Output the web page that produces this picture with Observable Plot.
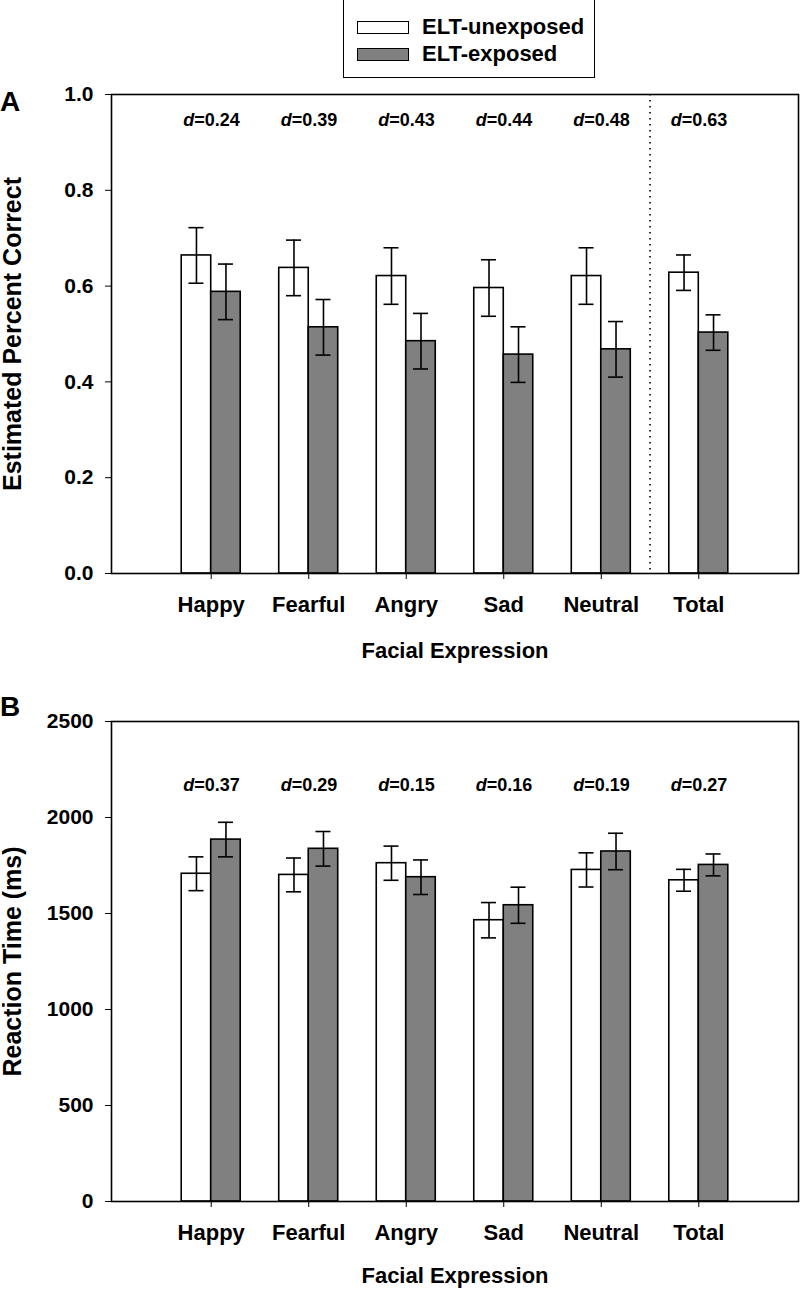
<!DOCTYPE html>
<html>
<head>
<meta charset="utf-8">
<script src="https://cdn.jsdelivr.net/npm/d3@7"></script>
<script src="https://cdn.jsdelivr.net/npm/@observablehq/plot@0.6"></script>
<style>
  html, body { margin: 0; padding: 0; background: #fff; }
  body { width: 800px; height: 1289px; position: relative; overflow: hidden;
         font-family: "Liberation Sans", Arial, Helvetica, sans-serif; font-weight: bold; color: #000; }
  .abs { position: absolute; white-space: nowrap; }
  #legendBox { left: 343px; top: -2px; width: 252px; height: 80px; border: 1.5px solid #000; box-sizing: border-box; z-index: 2; }
  .swatch { width: 52px; height: 13px; border: 1.5px solid #000; box-sizing: border-box; z-index: 3; }
  .legtext { font-size: 22px; line-height: 22px; z-index: 3; }
  .letter { font-size: 28px; line-height: 28px; left: 0px; z-index: 5; }
  #chartA { left: 0; top: 84px; z-index: 1; }
  #chartB { left: 0; top: 700px; z-index: 1; }
</style>
</head>
<body>
<div id="chartA" class="abs"></div>
<div id="chartB" class="abs"></div>
<div id="legendBox" class="abs"></div>
<div class="abs swatch" id="sw0" style="left:357px;top:21px;background:#ffffff"></div>
<div class="abs swatch" id="sw1" style="left:357px;top:48px;background:#808080"></div>
<div class="abs legtext" id="lt0" style="left:422px;top:16px"></div>
<div class="abs legtext" id="lt1" style="left:422px;top:43px"></div>
<div class="abs letter" style="top:88px">A</div>
<div class="abs letter" style="top:693px">B</div>
<script>
// ---------- data ----------
const categories = ["Happy", "Fearful", "Angry", "Sad", "Neutral", "Total"];
const groups = ["ELT-unexposed", "ELT-exposed"];
const groupFills = ["#ffffff", "#808080"];

// Panel A: estimated percent correct (proportion)
const accUnexposed   = [0.664, 0.638, 0.621, 0.596, 0.621, 0.628];
const accUnexposedSE = [0.058, 0.058, 0.059, 0.059, 0.059, 0.037];
const accExposed     = [0.588, 0.514, 0.485, 0.457, 0.468, 0.503];
const accExposedSE   = [0.058, 0.058, 0.058, 0.058, 0.058, 0.037];
const accD = ["0.24", "0.39", "0.43", "0.44", "0.48", "0.63"];
const accTicks = [0, 0.2, 0.4, 0.6, 0.8, 1.0];

// Panel B: reaction time (ms)
const rtUnexposed   = [1707, 1701, 1762, 1465, 1727, 1673];
const rtUnexposedSE = [88, 88, 89, 92, 89, 57];
const rtExposed     = [1885, 1837, 1689, 1543, 1823, 1753];
const rtExposedSE   = [90, 90, 90, 94, 95, 57];
const rtD = ["0.37", "0.29", "0.15", "0.16", "0.19", "0.27"];
const rtTicks = [0, 500, 1000, 1500, 2000, 2500];

const xLabel = "Facial Expression";

// ---------- legend ----------
document.getElementById("lt0").textContent = groups[0];
document.getElementById("lt1").textContent = groups[1];

// ---------- chart builder ----------
const W = 800, mL = 111, mR = 2;
const padInner = 0.395, padOuter = 0.72;
const step = (W - mL - mR) / (categories.length - padInner + 2 * padOuter);
const bw = step * (1 - padInner);
const half = bw / 2;
const font = '"Liberation Sans", Arial, Helvetica, sans-serif';

function panel({unexp, unexpSE, exp, expSE, dvals, yMax, ticks, fmt, yLabel, dY,
                height, marginTop, marginBottom, labelOffsetX, divider}) {
  const U = categories.map((c, i) => ({cat: c, v: unexp[i], se: unexpSE[i]}));
  const E = categories.map((c, i) => ({cat: c, v: exp[i], se: expSE[i]}));
  const D = categories.map((c, i) => ({cat: c, d: dvals[i]}));
  const err = {strokeWidth: 1.6, stroke: "black"};
  const cap = {insetLeft: bw / 2 - 7.5, insetRight: bw / 2 - 7.5, ...err};
  const marks = [
    Plot.barY(U, {x: "cat", y: "v", fill: groupFills[0], stroke: "black", strokeWidth: 1.6, insetRight: half}),
    Plot.barY(E, {x: "cat", y: "v", fill: groupFills[1], stroke: "black", strokeWidth: 1.6, insetLeft: half}),
    Plot.ruleX(U, {x: "cat", y1: d => d.v - d.se, y2: d => d.v + d.se, dx: -half / 2, ...err}),
    Plot.ruleX(E, {x: "cat", y1: d => d.v - d.se, y2: d => d.v + d.se, dx: half / 2, ...err}),
    Plot.tickY(U, {x: "cat", y: d => d.v + d.se, dx: -half / 2, ...cap}),
    Plot.tickY(U, {x: "cat", y: d => d.v - d.se, dx: -half / 2, ...cap}),
    Plot.tickY(E, {x: "cat", y: d => d.v + d.se, dx: half / 2, ...cap}),
    Plot.tickY(E, {x: "cat", y: d => d.v - d.se, dx: half / 2, ...cap}),
    Plot.text(D, {x: "cat", y: () => dY, text: () => "d", fontStyle: "italic", textAnchor: "end", dx: -17, fontSize: 18, fontWeight: "bold"}),
    Plot.text(D, {x: "cat", y: () => dY, text: d => "=" + d.d, textAnchor: "start", dx: -17, fontSize: 18, fontWeight: "bold"}),
    Plot.frame({stroke: "black", strokeWidth: 1.6}),
    Plot.axisY({ticks, tickFormat: fmt, tickSize: 6, tickPadding: 12, fontSize: 21, fontWeight: "bold",
                label: null}),
    Plot.axisY({ticks: [], tickSize: 0, fontSize: 25, fontWeight: "bold",
                label: yLabel, labelAnchor: "center", labelOffset: 108, labelArrow: false}),
    Plot.axisX({tickSize: 6, tickPadding: 17, fontSize: 22, fontWeight: "bold",
                label: xLabel, labelAnchor: "center", labelOffset: labelOffsetX, labelArrow: false})
  ];
  if (divider) {
    marks.push(Plot.ruleX([divider], {x: d => d, dx: -step / 2, stroke: "black", strokeWidth: 1.6,
                                      strokeDasharray: "1.5,4.5"}));
  }
  return Plot.plot({
    width: W, height, marginLeft: mL, marginRight: mR, marginTop, marginBottom,
    style: {fontFamily: font, fontWeight: "bold", fontSize: "21px", color: "black", background: "white", overflow: "visible"},
    x: {type: "band", domain: categories, paddingInner: padInner, paddingOuter: padOuter, align: 0.5, round: false},
    y: {domain: [0, yMax]},
    marks
  });
}

document.getElementById("chartA").append(panel({
  unexp: accUnexposed, unexpSE: accUnexposedSE, exp: accExposed, expSE: accExposedSE,
  dvals: accD, yMax: 1.0, ticks: accTicks, fmt: d3.format(".1f"),
  yLabel: "Estimated Percent Correct", dY: 0.946,
  height: 579, marginTop: 10, marginBottom: 90, labelOffsetX: 84, divider: "Total"
}));

document.getElementById("chartB").append(panel({
  unexp: rtUnexposed, unexpSE: rtUnexposedSE, exp: rtExposed, expSE: rtExposedSE,
  dvals: rtD, yMax: 2500, ticks: rtTicks, fmt: d3.format("d"),
  yLabel: "Reaction Time (ms)", dY: 2167,
  height: 589, marginTop: 21, marginBottom: 88, labelOffsetX: 81, divider: null
}));
</script>
</body>
</html>
